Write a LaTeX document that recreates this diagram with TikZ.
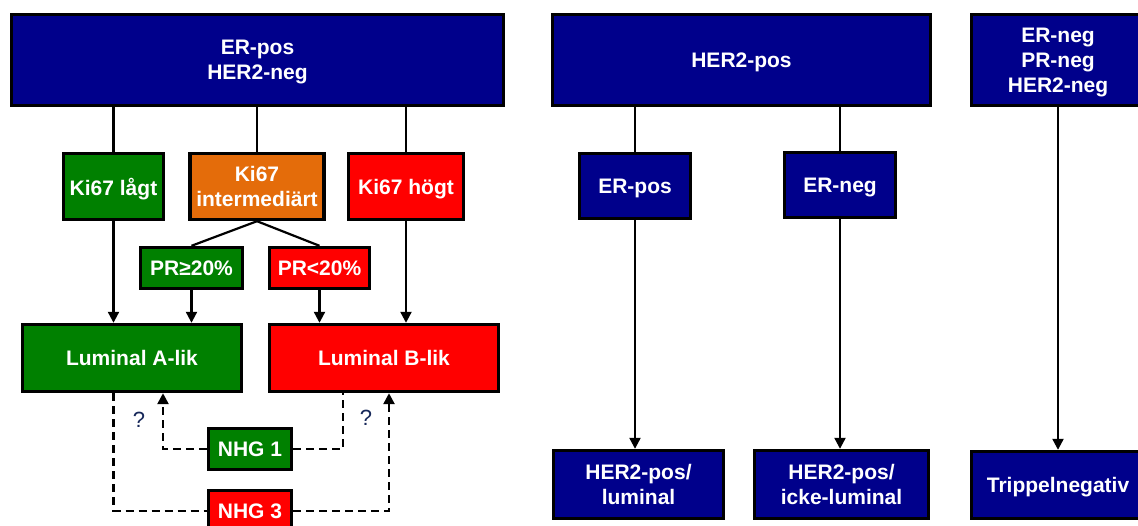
\documentclass[tikz,border=0pt]{standalone}
\usepackage{fontspec}
\setmainfont{Liberation Sans}
\usetikzlibrary{arrows.meta,calc}
\definecolor{navy}{RGB}{0,0,139}
\definecolor{grn}{RGB}{0,128,0}
\definecolor{org}{RGB}{228,108,10}
\definecolor{rd}{RGB}{255,0,0}
\definecolor{qcol}{RGB}{23,40,90}
\begin{document}
\begin{tikzpicture}[x=1pt,y=-1pt,
 box/.style={draw=black, line width=3.4pt, text=white, font=\bfseries\fontsize{21}{25}\selectfont, align=center, inner sep=0pt, text depth=0pt},
 conn/.style={line width=2.2pt, draw=black},
 arr/.style={conn, -{Triangle[length=11pt,width=11pt]}},
 dsh/.style={line width=2.5pt, draw=black, dash pattern=on 8pt off 5pt},
 darr/.style={dsh, -{Triangle[length=11pt,width=11pt]}},
 q/.style={text=qcol, font=\fontsize{22}{26}\selectfont, inner sep=0pt}]
\useasboundingbox (0,0) rectangle (1138,525);
\fill[white] (0,0) rectangle (1138,525);
\clip (0,0) rectangle (1138,525);
% left part
\node[box, fill=navy, minimum width=492pt, minimum height=91pt] (e1) at (257.5,60) {ER-pos\\HER2-neg};
\node[box, fill=grn, minimum width=100pt, minimum height=66pt] (kl) at (113.5,186.5) {Ki67 lågt};
\node[box, fill=org, minimum width=134pt, minimum height=66pt] (ki) at (257,186.5) {Ki67\\intermediärt};
\node[box, fill=rd, minimum width=115pt, minimum height=66pt] (kh) at (406,186.5) {Ki67 högt};
\node[box, fill=grn, minimum width=102pt, minimum height=41pt] (pr1) at (191.5,268) {PR≥20\%};
\node[box, fill=rd, minimum width=100pt, minimum height=41pt] (pr2) at (319.5,268) {PR<20\%};
\node[box, fill=grn, minimum width=219pt, minimum height=67pt] (la) at (132,358) {Luminal A-lik};
\node[box, fill=rd, minimum width=229pt, minimum height=67pt] (lb) at (384,358) {Luminal B-lik};
\node[box, fill=grn, minimum width=83pt, minimum height=41pt] (n1) at (250,449) {NHG 1};
\node[box, fill=rd, minimum width=83pt, minimum height=41pt] (n3) at (250,511) {NHG 3};
\node[q] (q1) at (139,420) {?};
\node[q] (q2) at (366,418) {?};
% right part
\node[box, fill=navy, minimum width=378pt, minimum height=91pt] (h2) at (741.5,60) {HER2-pos};
\node[box, fill=navy, minimum width=173pt, minimum height=91pt] (tn) at (1058,60) {ER-neg\\PR-neg\\HER2-neg};
\node[box, fill=navy, minimum width=111pt, minimum height=65pt] (ep) at (635,186) {ER-pos};
\node[box, fill=navy, minimum width=111pt, minimum height=65pt] (en) at (840,185) {ER-neg};
\node[box, fill=navy, minimum width=170pt, minimum height=68pt] (hl) at (638.5,484.5) {HER2-pos/\\luminal};
\node[box, fill=navy, minimum width=174pt, minimum height=68pt] (hi) at (841.5,484.5) {HER2-pos/\\icke-luminal};
\node[box, fill=navy, minimum width=173pt, minimum height=67pt] (tr) at (1058,485) {Trippelnegativ};
% connectors left
\draw[conn] (kl.north |- e1.south) -- (kl.north);
\draw[conn] (ki.north |- e1.south) -- (ki.north);
\draw[conn] (kh.north |- e1.south) -- (kh.north);
\draw[conn] (ki.south) -- (pr1.north);
\draw[conn] (ki.south) -- (pr2.north);
\draw[arr] (kl.south) -- (kl.south |- la.north);
\draw[arr] (pr1.south) -- (pr1.south |- la.north);
\draw[arr] (pr2.south) -- (pr2.south |- lb.north);
\draw[arr] (kh.south) -- (kh.south |- lb.north);
\draw[dsh] (la.south -| kl.south) |- (n3.west);
\draw[darr] (n3.east) -| ([xshift=5pt]lb.south);
\draw[darr] (n1.west) -| ([xshift=31pt]la.south);
\draw[dsh] (n1.east) -| ([xshift=-41pt]lb.south);
% connectors right
\draw[conn] (ep.north |- h2.south) -- (ep.north);
\draw[conn] (en.north |- h2.south) -- (en.north);
\draw[arr] (ep.south) -- (ep.south |- hl.north);
\draw[arr] (en.south) -- (en.south |- hi.north);
\draw[arr] (tn.south) -- (tr.north);
\end{tikzpicture}
\end{document}
